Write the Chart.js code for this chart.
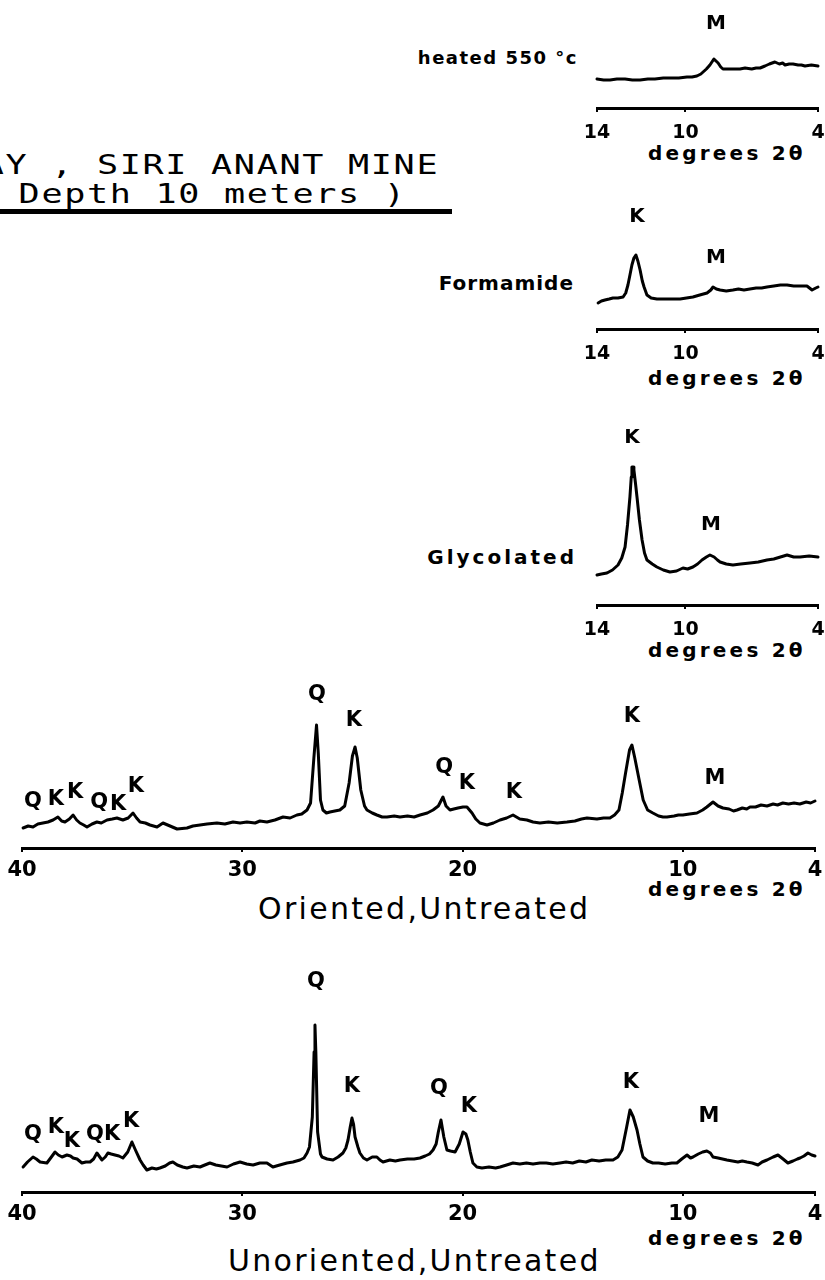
<!DOCTYPE html>
<html lang="en">
<head>
    <meta charset="UTF-8">
    <title>Siri Anant Mine clay, X-ray diffraction</title>
    <script src="https://cdn.jsdelivr.net/npm/chart.js@4.4.1/dist/chart.umd.min.js"></script>
    <style>
        html, body {
            margin: 0;
            padding: 0;
            background: #fff;
            overflow: hidden;
        }
        #page {
            position: relative;
            width: 825px;
            height: 1280px;
            overflow: hidden;
        }
        #page canvas, #page div {
            position: absolute;
        }
        .title {
            font-family: "DejaVu Sans Mono", monospace;
            font-size: 27px;
            line-height: 1;
            letter-spacing: 1.3px;
            white-space: nowrap;
            transform: scaleX(1.3);
            transform-origin: right center;
        }
        .rule {
            left: 0;
            top: 209px;
            width: 452px;
            height: 5px;
            background: #000;
        }
        .lbl {
            font-family: "DejaVu Sans", sans-serif;
            font-weight: bold;
            line-height: 1;
            white-space: nowrap;
        }
        .deg {
            left: 648px;
            font-size: 20px;
            letter-spacing: 3.2px;
        }
        .caption {
            font-family: "DejaVu Sans", sans-serif;
            font-size: 30px;
            line-height: 1;
            letter-spacing: 2.3px;
            white-space: nowrap;
        }
    </style>
</head>
<body>
<div id="page">
    <div class="title" style="right:386px;top:151px">CLAY , SIRI ANANT MINE</div>
    <div class="title" style="right:418px;top:180px">( Depth 10 meters )</div>
    <div class="rule"></div>

    <div class="lbl" style="right:247px;top:49px;font-size:18px;letter-spacing:1.5px">heated 550 °c</div>
    <div class="lbl deg" style="top:143px">degrees 2θ</div>

    <div class="lbl" style="right:251px;top:273px;font-size:20px;letter-spacing:1px">Formamide</div>
    <div class="lbl deg" style="top:368px">degrees 2θ</div>

    <div class="lbl" style="right:248px;top:547px;font-size:20px;letter-spacing:3px">Glycolated</div>
    <div class="lbl deg" style="top:640px">degrees 2θ</div>

    <div class="lbl deg" style="top:879px">degrees 2θ</div>
    <div class="caption" style="left:258px;top:894px">Oriented,Untreated</div>

    <div class="lbl deg" style="top:1228px">degrees 2θ</div>
    <div class="caption" style="left:228px;top:1246px">Unoriented,Untreated</div>

    <canvas id="heatedChart" width="255" height="128" style="left:570px;top:10px"></canvas>
    <canvas id="formamideChart" width="255" height="159" style="left:570px;top:200px"></canvas>
    <canvas id="glycolChart" width="255" height="210" style="left:570px;top:425px"></canvas>
    <canvas id="orientedChart" width="825" height="210" style="left:0;top:670px"></canvas>
    <canvas id="unorientedChart" width="825" height="264" style="left:0;top:960px"></canvas>
</div>
<script>
    // tick positions (degrees 2-theta)
    const smallTicks = [14, 10, 4];
    const mainTicks = [40, 30, 20, 10, 4];

    // heated 550 C
    const heatedDeg = [14.0, 13.7, 13.41, 13.1, 12.73, 12.4, 12.05, 11.7, 11.38, 11.0, 10.70, 10.3, 9.93, 9.70, 9.48, 9.30, 9.20, 9.05, 8.89, 8.71, 8.52, 8.40, 8.30, 8.0, 7.8, 7.53, 7.3, 7.0, 6.8, 6.62, 6.4, 6.2, 5.95, 5.75, 5.60, 5.49, 5.30, 5.13, 4.90, 4.75, 4.59, 4.30, 4.0];
    const heatedCounts = [29, 28, 28, 29, 29, 28, 28, 29, 29, 30, 30, 30, 31, 31, 32, 34, 36, 39, 43, 49, 45, 41, 39, 39, 39, 39, 40, 39, 40, 40, 42, 44, 46, 44, 45, 43, 44, 44, 43, 43, 42, 43, 42];
    const heatedPeakText = ['M'];
    const heatedPeakDeg = [8.62];
    const heatedPeakHeight = [84];

    // formamide
    const formDeg = [13.95, 13.80, 13.64, 13.45, 13.28, 13.05, 12.82, 12.70, 12.60, 12.50, 12.42, 12.33, 12.24, 12.15, 12.05, 11.95, 11.87, 11.74, 11.55, 11.29, 11.0, 10.70, 10.45, 10.24, 9.95, 9.66, 9.35, 9.02, 8.85, 8.75, 8.60, 8.43, 8.15, 7.85, 7.60, 7.35, 7.08, 6.80, 6.55, 6.31, 6.00, 5.70, 5.40, 5.10, 4.81, 4.50, 4.27, 4.10, 4.0];
    const formCounts = [26, 28, 29, 30, 31, 31, 32, 36, 44, 55, 64, 71, 74, 68, 59, 48, 42, 34, 31, 30, 30, 30, 30, 30, 31, 32, 34, 36, 39, 42, 40, 39, 38, 39, 40, 39, 40, 41, 41, 42, 43, 44, 44, 43, 43, 43, 39, 41, 42];
    const formPeakText = ['K', 'M'];
    const formPeakDeg = [12.19, 8.62];
    const formPeakHeight = [112, 71];

    // glycolated
    const glyDeg = [14.0, 13.80, 13.55, 13.30, 13.05, 12.88, 12.73, 12.62, 12.51, 12.45, 12.42, 12.37, 12.33, 12.25, 12.19, 12.08, 11.96, 11.85, 11.74, 11.50, 11.29, 11.00, 10.70, 10.40, 10.11, 9.90, 9.66, 9.45, 9.25, 9.05, 8.89, 8.70, 8.55, 8.43, 8.15, 7.85, 7.50, 7.08, 6.70, 6.31, 6.00, 5.70, 5.40, 5.10, 4.81, 4.40, 4.0];
    const glyCounts = [30, 31, 32, 35, 40, 47, 58, 80, 108, 128, 138, 138, 135, 120, 108, 85, 65, 52, 45, 41, 38, 35, 33, 34, 37, 36, 38, 41, 45, 48, 50, 48, 45, 43, 41, 40, 41, 42, 43, 45, 46, 48, 50, 48, 48, 49, 48];
    const glyPeakText = ['K', 'M'];
    const glyPeakDeg = [12.42, 8.84];
    const glyPeakHeight = [167, 80];

    // oriented, untreated
    const orientedDeg = [39.95, 39.72, 39.50, 39.28, 39.05, 38.82, 38.59, 38.37, 38.20, 38.05, 37.85, 37.68, 37.52, 37.37, 37.20, 37.05, 36.82, 36.60, 36.40, 36.14, 35.90, 35.69, 35.42, 35.18, 34.96, 34.80, 34.64, 34.40, 34.19, 33.87, 33.60, 33.28, 32.96, 32.51, 32.24, 31.92, 31.60, 31.15, 30.79, 30.42, 30.10, 29.79, 29.42, 29.20, 28.88, 28.52, 28.15, 27.83, 27.52, 27.30, 27.06, 26.90, 26.75, 26.63, 26.55, 26.45, 26.34, 26.18, 26.02, 25.80, 25.57, 25.35, 25.15, 25.00, 24.88, 24.78, 24.62, 24.45, 24.34, 24.10, 23.89, 23.65, 23.43, 23.10, 22.84, 22.50, 22.20, 21.93, 21.60, 21.34, 21.10, 20.89, 20.75, 20.57, 20.40, 20.21, 19.98, 19.80, 19.57, 19.40, 19.21, 18.89, 18.60, 18.30, 18.00, 17.71, 17.40, 17.08, 16.80, 16.49, 16.10, 15.70, 15.26, 14.90, 14.60, 14.35, 13.90, 13.60, 13.31, 13.10, 12.90, 12.75, 12.60, 12.42, 12.31, 12.18, 12.00, 11.80, 11.60, 11.36, 11.10, 10.90, 10.72, 10.40, 10.20, 10.00, 9.70, 9.36, 9.10, 8.91, 8.63, 8.40, 8.18, 7.90, 7.70, 7.54, 7.30, 7.10, 6.95, 6.70, 6.45, 6.18, 5.90, 5.70, 5.46, 5.20, 4.95, 4.69, 4.40, 4.20, 4.00];
    const orientedCounts = [20, 22, 21, 24, 25, 26, 28, 31, 27, 26, 29, 33, 28, 25, 23, 21, 24, 26, 25, 28, 29, 30, 28, 30, 35, 30, 26, 25, 23, 21, 25, 22, 19, 20, 22, 23, 24, 25, 24, 26, 25, 26, 25, 27, 26, 28, 31, 30, 33, 34, 38, 45, 90, 123, 95, 48, 38, 35, 36, 37, 38, 42, 65, 92, 101, 90, 58, 42, 38, 35, 33, 31, 31, 32, 31, 32, 31, 33, 35, 38, 42, 51, 42, 38, 39, 40, 41, 41, 35, 29, 25, 23, 25, 28, 30, 33, 29, 28, 26, 25, 26, 25, 26, 27, 29, 30, 29, 30, 30, 33, 38, 55, 75, 98, 103, 90, 70, 48, 38, 35, 32, 31, 31, 32, 33, 33, 34, 35, 38, 41, 46, 42, 40, 39, 37, 38, 40, 39, 41, 41, 43, 42, 44, 43, 45, 44, 45, 44, 46, 45, 47];
    const orientedPeakText = ['Q', 'K', 'K', 'Q', 'K', 'K', 'Q', 'K', 'Q', 'K', 'K', 'K', 'M'];
    const orientedPeakDeg = [39.50, 38.46, 37.59, 36.50, 35.64, 34.83, 26.61, 24.93, 20.84, 19.80, 17.67, 12.31, 8.54];
    const orientedPeakHeight = [46, 48, 55, 45, 43, 61, 153, 127, 80, 64, 55, 131, 69];

    // unoriented, untreated
    const unorientedDeg = [39.95, 39.75, 39.50, 39.35, 39.18, 38.87, 38.70, 38.50, 38.35, 38.18, 37.96, 37.80, 37.68, 37.50, 37.28, 37.10, 36.91, 36.75, 36.60, 36.37, 36.22, 36.10, 35.95, 35.78, 35.60, 35.42, 35.20, 35.01, 34.85, 34.64, 34.50, 34.33, 34.10, 33.90, 33.74, 33.50, 33.30, 33.15, 32.95, 32.70, 32.51, 32.20, 31.92, 31.70, 31.47, 31.20, 30.95, 30.69, 30.40, 30.10, 29.80, 29.51, 29.20, 28.88, 28.61, 28.30, 27.97, 27.70, 27.38, 27.20, 27.06, 26.95, 26.82, 26.74, 26.70, 26.66, 26.58, 26.45, 26.38, 26.15, 25.88, 25.65, 25.43, 25.30, 25.20, 25.10, 25.02, 24.95, 24.88, 24.75, 24.66, 24.50, 24.34, 24.10, 23.89, 23.75, 23.61, 23.30, 23.05, 22.84, 22.50, 22.20, 21.93, 21.70, 21.50, 21.34, 21.20, 21.10, 20.98, 20.85, 20.71, 20.55, 20.34, 20.15, 19.98, 19.85, 19.76, 19.65, 19.53, 19.35, 19.12, 18.80, 18.50, 18.30, 18.00, 17.71, 17.40, 17.10, 16.80, 16.49, 16.20, 15.90, 15.58, 15.30, 15.00, 14.70, 14.40, 14.13, 13.80, 13.50, 13.17, 12.95, 12.76, 12.55, 12.40, 12.25, 12.08, 11.95, 11.81, 11.60, 11.36, 11.10, 10.80, 10.50, 10.27, 10.05, 9.81, 9.65, 9.54, 9.30, 9.10, 8.91, 8.75, 8.63, 8.40, 8.20, 8.00, 7.75, 7.50, 7.30, 7.09, 6.85, 6.59, 6.40, 6.18, 5.90, 5.68, 5.45, 5.23, 5.00, 4.80, 4.68, 4.50, 4.32, 4.15, 4.00];
    const unorientedCounts = [25, 30, 35, 33, 30, 29, 34, 40, 37, 35, 37, 36, 34, 33, 29, 30, 30, 33, 39, 32, 35, 39, 38, 37, 36, 34, 40, 50, 42, 32, 27, 22, 24, 23, 24, 26, 29, 30, 27, 25, 24, 26, 25, 27, 29, 27, 26, 25, 28, 30, 28, 27, 29, 29, 25, 27, 29, 30, 32, 34, 39, 45, 75, 140, 167, 140, 60, 38, 35, 33, 32, 35, 39, 44, 52, 65, 74, 68, 55, 45, 39, 34, 32, 35, 35, 32, 30, 32, 31, 32, 33, 33, 34, 36, 38, 42, 48, 60, 72, 55, 42, 41, 40, 48, 60, 58, 52, 40, 29, 25, 24, 25, 24, 25, 27, 29, 28, 29, 28, 29, 29, 28, 29, 30, 29, 31, 30, 32, 31, 32, 32, 35, 42, 65, 82, 75, 62, 48, 35, 31, 29, 29, 28, 29, 29, 33, 37, 34, 35, 38, 40, 41, 39, 35, 34, 33, 32, 31, 30, 31, 30, 29, 27, 30, 32, 35, 37, 33, 29, 31, 33, 34, 36, 39, 37, 36];
    const unorientedPeakText = ['Q', 'K', 'K', 'Q', 'K', 'K', 'Q', 'K', 'Q', 'K', 'K', 'M'];
    const unorientedPeakDeg = [39.50, 38.46, 37.73, 36.69, 35.91, 35.05, 26.66, 25.02, 21.07, 19.71, 12.36, 8.82];
    const unorientedPeakHeight = [57, 64, 50, 57, 57, 70, 210, 105, 103, 85, 109, 75];

    Chart.defaults.font.family = '"DejaVu Sans", sans-serif';
    Chart.defaults.color = '#000';

    function drawTrace(id, deg, counts, peakText, peakDeg, peakHeight, cfg) {
        const points = deg.map((d, i) => ({ x: d, y: counts[i] }));

        // mineral letters over the peaks, placed with the chart's own scales
        const peakLabels = {
            id: 'peakLabels',
            afterDatasetsDraw(chart) {
                const ctx = chart.ctx;
                ctx.save();
                ctx.font = 'bold ' + cfg.peakSize + 'px "DejaVu Sans"';
                ctx.fillStyle = '#000';
                ctx.textAlign = 'center';
                ctx.textBaseline = 'middle';
                peakText.forEach((t, i) => {
                    ctx.fillText(t, chart.scales.x.getPixelForValue(peakDeg[i]), chart.scales.y.getPixelForValue(peakHeight[i]));
                });
                ctx.restore();
            }
        };

        return new Chart(document.getElementById(id), {
            type: 'line',
            data: {
                datasets: [{
                    data: points,
                    borderColor: '#000',
                    borderWidth: 3,
                    borderJoinStyle: 'round',
                    borderCapStyle: 'round',
                    pointRadius: 0,
                    tension: 0,
                    clip: false
                }]
            },
            options: {
                responsive: false,
                animation: false,
                layout: { padding: { left: cfg.padL, right: cfg.padR, top: 0, bottom: 0 } },
                plugins: {
                    legend: { display: false },
                    tooltip: { enabled: false },
                    title: { display: false }
                },
                scales: {
                    x: {
                        type: 'linear',
                        reverse: true,
                        min: cfg.min,
                        max: cfg.max,
                        afterBuildTicks: (s) => { s.ticks = cfg.ticks.map(v => ({ value: v })); },
                        afterFit: (s) => { s.height = cfg.axisH; s.paddingLeft = 0; s.paddingRight = 0; },
                        border: { display: true, color: '#000', width: 3 },
                        grid: { drawOnChartArea: false, color: '#000', lineWidth: 2, tickLength: 4 },
                        ticks: {
                            autoSkip: false,
                            maxRotation: 0,
                            color: '#000',
                            padding: cfg.tickPad,
                            font: { weight: 'bold', size: cfg.tickSize }
                        }
                    },
                    y: { display: false, min: 0, max: cfg.yMax }
                }
            },
            plugins: [peakLabels]
        });
    }

    const small = { min: 4, max: 14, ticks: smallTicks, padL: 27, padR: 7, axisH: 30, tickSize: 19, tickPad: 10, peakSize: 20 };
    const main = { min: 4, max: 40, ticks: mainTicks, padL: 22, padR: 10, axisH: 32, tickSize: 21, tickPad: 6, peakSize: 21 };

    drawTrace('heatedChart', heatedDeg, heatedCounts, heatedPeakText, heatedPeakDeg, heatedPeakHeight, { ...small, yMax: 98 });
    drawTrace('formamideChart', formDeg, formCounts, formPeakText, formPeakDeg, formPeakHeight, { ...small, yMax: 129 });
    drawTrace('glycolChart', glyDeg, glyCounts, glyPeakText, glyPeakDeg, glyPeakHeight, { ...small, yMax: 180 });
    drawTrace('orientedChart', orientedDeg, orientedCounts, orientedPeakText, orientedPeakDeg, orientedPeakHeight, { ...main, yMax: 178 });
    drawTrace('unorientedChart', unorientedDeg, unorientedCounts, unorientedPeakText, unorientedPeakDeg, unorientedPeakHeight, { ...main, yMax: 232 });
</script>
</body>
</html>
